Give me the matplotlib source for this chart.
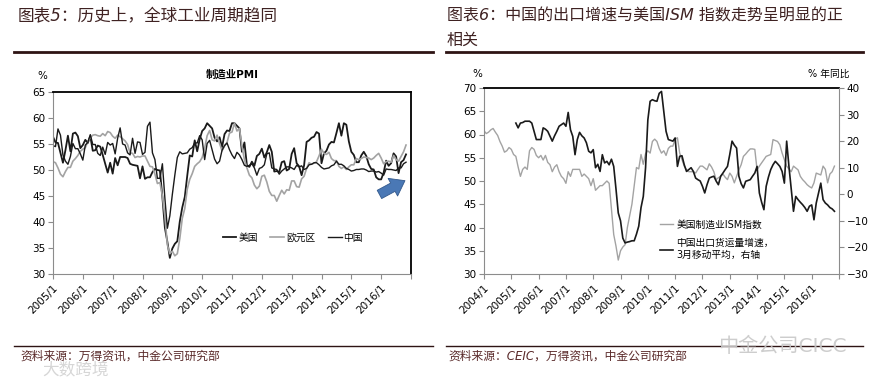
import numpy as np
import matplotlib.pyplot as plt
from matplotlib.patches import FancyArrowPatch

plt.rcParams['font.family'] = ['DejaVu Sans', 'Noto Sans CJK SC']

# left chart: manufacturing PMI, monthly from 2005/1
pmi_start = (2005, 1)
us_pmi = [56.4, 55.3, 55.2, 53.3, 51.4, 53.8, 56.6, 53.6, 57.0, 57.2, 56.5, 54.2,
          54.8, 55.8, 55.2, 56.5, 53.7, 53.8, 54.7, 54.5, 52.9, 51.2, 49.5, 51.4,
          49.3, 52.3, 50.9, 52.5, 52.5, 52.5, 52.3, 51.2, 51.0, 50.9, 50.8, 48.4,
          50.7, 48.3, 48.6, 48.6, 49.6, 50.2, 50.0, 49.9, 44.8, 38.9, 36.2, 33.1,
          34.9, 35.8, 36.3, 40.1, 42.8, 44.8, 48.9, 52.8, 52.6, 55.7, 53.6, 55.9,
          57.5, 58.0, 59.0, 58.5, 58.0, 56.2, 55.5, 56.3, 54.4, 56.9, 57.6, 57.5,
          59.0, 59.0, 58.5, 58.0, 53.5, 55.3, 50.9, 50.6, 51.6, 50.8, 52.7, 53.1,
          54.1, 52.4, 53.4, 54.8, 53.5, 49.7, 49.8, 49.6, 51.5, 51.7, 49.9, 50.2,
          53.1, 54.2, 51.3, 50.7, 49.0, 50.9, 55.4, 55.7, 56.2, 56.4, 57.3, 57.0,
          51.3, 53.2, 53.7, 54.9, 55.4, 55.3, 57.1, 59.0, 56.6, 59.0, 58.7, 55.5,
          53.5, 52.9, 51.5, 51.5, 52.8, 53.5, 52.7, 51.1, 50.2, 50.1, 48.6, 48.2,
          48.2, 49.5, 51.8, 50.8, 51.3, 53.2, 52.6, 49.4, 51.5, 51.9, 53.0]
euro_pmi = [51.6, 51.4, 50.4, 49.2, 48.7, 49.7, 50.5, 50.5, 51.7, 52.2, 52.8, 53.6,
            54.0, 54.3, 55.4, 56.2, 56.7, 56.8, 56.6, 56.5, 57.0, 56.6, 57.4, 57.2,
            56.5, 56.1, 56.7, 56.4, 56.0, 55.6, 54.9, 53.3, 53.2, 52.4, 52.6, 52.5,
            52.7, 52.7, 51.7, 50.7, 50.6, 49.2, 47.4, 47.6, 45.0, 41.1, 35.6, 33.9,
            34.4, 33.5, 33.9, 36.8, 40.7, 42.6, 46.3, 48.2, 49.3, 50.7, 51.2, 51.6,
            52.4, 54.2, 56.6, 57.6, 55.8, 55.6, 56.7, 55.1, 53.7, 54.6, 55.3, 57.1,
            57.3, 59.0, 57.5, 58.0, 54.6, 52.0, 50.4, 49.0, 48.5, 47.1, 46.4, 46.9,
            48.8, 49.0, 47.7, 45.9, 45.1, 45.1, 44.0, 45.1, 46.1, 45.4, 46.2, 46.1,
            47.9, 47.9, 46.8, 46.7, 48.3, 48.8, 50.3, 51.4, 51.1, 51.3, 51.6, 52.7,
            54.0, 53.2, 53.0, 53.4, 52.2, 51.8, 51.8, 50.7, 50.3, 50.6, 50.1, 50.6,
            51.0, 51.0, 52.2, 52.0, 52.2, 52.5, 52.4, 52.3, 52.0, 52.3, 52.8, 53.2,
            52.3, 51.2, 51.6, 51.7, 51.5, 52.8, 52.0, 51.7, 52.6, 53.5, 54.8]
cn_pmi = [54.7, 54.5, 57.9, 56.7, 52.9, 51.7, 51.1, 52.6, 55.1, 54.1, 54.1, 53.1,
          51.9, 54.8, 55.3, 56.8, 54.9, 54.9, 53.2, 52.8, 54.4, 53.0, 55.3, 54.8,
          55.1, 53.1, 56.1, 58.1, 55.0, 54.8, 53.3, 52.9, 56.1, 53.2, 55.4, 55.3,
          53.0, 53.4, 58.4, 59.2, 53.3, 52.0, 48.4, 48.4, 51.2, 44.6, 38.8, 41.2,
          45.3, 49.0, 52.4, 53.5, 53.1, 53.2, 53.3, 54.0, 54.3, 55.2, 55.2, 56.6,
          55.8, 52.0, 55.1, 55.7, 53.9, 52.1, 51.2, 51.7, 53.8, 54.7, 55.2, 53.9,
          52.9, 52.2, 53.4, 52.9, 52.0, 50.9, 50.7, 50.9, 51.2, 50.4, 49.0, 50.3,
          50.5, 51.0, 53.1, 53.3, 50.4, 50.2, 50.1, 49.2, 49.8, 50.2, 50.6, 50.6,
          50.4, 50.1, 50.9, 50.6, 50.8, 50.1, 50.3, 51.0, 51.1, 51.4, 51.4, 51.0,
          50.5, 50.2, 50.3, 50.4, 50.8, 51.0, 51.7, 51.1, 51.1, 50.8, 50.3, 50.1,
          49.8, 49.9, 50.1, 50.1, 50.2, 50.2, 50.0, 49.7, 49.8, 49.8, 49.6, 49.7,
          49.4, 49.0, 50.2, 50.1, 50.1, 50.0, 49.9, 50.4, 50.4, 51.2, 51.5]
left_years = list(range(2005, 2018))

# right chart: US ISM (left axis) and China export volume growth 3mma (right axis)
ism_start = (2004, 1)
us_ism = [60.8, 60.2, 60.5, 61.0, 61.3, 60.5, 59.8, 58.5, 57.5, 56.2, 56.5, 57.2,
          56.8, 55.7, 55.3, 53.0, 51.0, 52.5, 53.0, 52.5, 56.5, 57.2, 56.8, 55.5,
          55.0, 55.5, 54.5, 55.5, 54.0, 53.5, 52.0, 53.0, 53.5, 52.0, 51.0, 50.5,
          49.5, 52.0, 51.0, 52.5, 52.5, 52.5, 52.5, 51.0, 51.5, 51.0, 50.5, 49.0,
          50.5, 48.0, 48.5, 49.0, 49.0, 49.5, 50.0, 49.5, 44.0, 38.5, 36.0, 33.0,
          35.0, 35.8, 36.3, 40.0, 42.5, 45.0, 49.0, 52.9, 52.6, 55.7, 53.6, 55.9,
          56.5, 56.0, 58.5, 59.0, 58.5, 57.0, 56.0, 56.5, 55.5, 57.0, 57.5, 57.5,
          59.0, 59.3, 56.0, 54.6, 53.2, 52.4, 52.0, 52.0, 52.0, 51.7, 52.5, 53.2,
          53.2, 52.8, 52.4, 53.7, 53.0, 52.0, 50.3, 50.7, 51.0, 51.5, 50.8, 50.3,
          51.7, 51.0, 49.6, 51.0, 52.4, 53.5, 55.3, 55.8, 56.4, 56.9, 56.9, 56.8,
          52.4, 53.2, 53.9, 54.6, 55.3, 55.5, 55.7, 58.9, 58.7, 58.5, 57.8, 56.0,
          54.6, 53.2, 52.6, 52.0, 53.2, 52.8, 52.4, 51.0, 50.3, 49.8, 49.2, 48.8,
          48.5, 49.6, 51.7, 51.5, 51.3, 53.2, 52.5, 49.6, 51.5, 52.0, 53.2]
export_start = (2005, 3)
cn_export = [26.8, 25.0, 26.8, 27.0, 27.5, 27.5, 27.5, 26.8, 23.7, 20.6,
             20.6, 20.6, 25.0, 24.5, 23.7, 21.8, 20.0, 22.0, 23.7, 25.6, 26.2, 26.8,
             25.6, 30.8, 24.3, 21.8, 14.9, 20.6, 23.3, 22.0, 21.2, 19.4, 16.2, 15.6,
             16.8, 10.0, 11.3, 8.6, 14.9, 11.8, 12.4, 11.1, 13.2, 10.5, 2.0, -7.0,
             -10.0, -16.5, -18.3, -18.0, -17.8, -17.5, -17.5, -15.0, -12.0, -5.0, -0.8, 10.0,
             28.0, 35.0, 35.6, 35.2, 35.0, 38.0, 38.7, 31.2, 23.7, 20.6, 20.3, 20.0,
             21.2, 10.5, 14.3, 14.5, 11.1, 8.6, 9.3, 10.0, 8.6, 6.1, 5.5, 5.0,
             3.0, 0.5, 3.6, 6.1, 6.5, 6.8, 5.0, 3.6, 6.8, 8.0, 9.3, 10.5,
             15.0, 20.0, 18.5, 17.4, 6.8, 4.0, 2.4, 4.9, 5.2, 5.5, 6.8, 8.0,
             10.5, 0.5, -3.0, -5.8, 3.0, 6.5, 9.3, 11.1, 12.4, 11.5, 10.5, 8.6,
             4.2, 20.0, 10.5, 2.0, -6.4, -0.8, -2.0, -3.0, -3.9, -5.0, -6.4, -4.5,
             -4.0, -9.6, -3.3, 0.5, 4.2, -2.0, -3.3, -4.0, -5.0, -5.5, -6.4]
right_years = list(range(2004, 2018))


def month_index(start, base_year):
    return (start[0] - base_year) * 12 + start[1] - 1


def year_labels(years):
    return [f'{y}/1' for y in years[:-1]] + ['']


BLACK = '#1a1a1a'
GRAY = '#a3a3a3'
AXGRAY = '#8c8c8c'
BROWN = '#3f2222'

fig = plt.figure(figsize=(8.72, 3.84), dpi=100)
fig.patch.set_facecolor('white')


def style_axes(ax, xticks, xlabels):
    ax.set_xticks(xticks)
    ax.set_xticklabels(xlabels, rotation=45, ha='right', va='top',
                       rotation_mode='anchor', fontsize=7.2)
    ax.tick_params(axis='both', direction='out', length=3.5, width=0.8,
                   color=AXGRAY, labelsize=7.5, pad=2)
    ax.tick_params(axis='x', pad=3)
    ax.spines['top'].set_color('black')
    ax.spines['top'].set_linewidth(1.3)
    ax.spines['left'].set_color(AXGRAY)
    ax.spines['bottom'].set_color(AXGRAY)


# ---------------- left panel ----------------
ax1 = fig.add_axes([53 / 872, 1 - 274 / 384, 358 / 872, 182 / 384])
b = pmi_start[0]
x_us = np.arange(len(us_pmi)) + month_index(pmi_start, b)
x_eu = np.arange(len(euro_pmi)) + month_index(pmi_start, b)
x_cn = np.arange(len(cn_pmi)) + month_index(pmi_start, b)
ax1.plot(x_us, us_pmi, color=BLACK, lw=1.3, label='美国')
ax1.plot(x_eu, euro_pmi, color=GRAY, lw=1.2, label='欧元区')
ax1.plot(x_cn, cn_pmi, color=BLACK, lw=1.0, label='中国')
ax1.set_xlim(0, (left_years[-1] - b) * 12)
ax1.set_ylim(30, 65)
ax1.set_yticks(np.arange(30, 66, 5))
style_axes(ax1, [(y - b) * 12 for y in left_years], year_labels(left_years))
ax1.spines['right'].set_color('black')
ax1.spines['right'].set_linewidth(1.3)
ax1.text(-0.015, 1.07, '%', transform=ax1.transAxes, fontsize=7.5, ha='right')
ax1.text(0.5, 1.08, '制造业PMI', transform=ax1.transAxes, fontsize=7.5,
         ha='center', fontweight='bold')
ax1.legend(loc='center', bbox_to_anchor=(0.67, 0.2), ncol=3, frameon=False,
           fontsize=7, handlelength=1.4, handletextpad=0.2, columnspacing=1.3)
arrow = FancyArrowPatch((0.905, 0.43), (0.99, 0.52), transform=ax1.transAxes,
                        arrowstyle='simple,head_width=1.6,head_length=1.1,tail_width=0.75',
                        mutation_scale=9, facecolor='#4a78b5', edgecolor='#33598c', lw=0.6)
ax1.add_patch(arrow)

# ---------------- right panel ----------------
ax2 = fig.add_axes([484 / 872, 1 - 274 / 384, 355 / 872, 186 / 384])
b = ism_start[0]
x_ism = np.arange(len(us_ism)) + month_index(ism_start, b)
x_exp = np.arange(len(cn_export)) + month_index(export_start, b)
l1, = ax2.plot(x_ism, us_ism, color=GRAY, lw=1.0, label='美国制造业ISM指数')
ax2.set_xlim(0, (right_years[-1] - b) * 12)
ax2.set_ylim(30, 70)
ax2.set_yticks(np.arange(30, 71, 5))
style_axes(ax2, [(y - b) * 12 for y in right_years], year_labels(right_years))
ax2.spines['right'].set_visible(False)
ax3 = ax2.twinx()
l2, = ax3.plot(x_exp, cn_export, color=BLACK, lw=1.2,
               label='中国出口货运量增速，\n3月移动平均，右轴')
ax3.set_ylim(-30, 40)
ax3.set_yticks(np.arange(-30, 41, 10))
ax3.tick_params(axis='y', direction='out', length=3.5, width=0.8,
                color=AXGRAY, labelsize=7.5, pad=2)
for s in ['top', 'left', 'bottom']:
    ax3.spines[s].set_visible(False)
ax3.spines['right'].set_color(AXGRAY)
ax2.text(-0.005, 1.06, '%', transform=ax2.transAxes, fontsize=7.5, ha='right')
ax3.text(1.03, 1.06, '% 年同比', transform=ax3.transAxes, fontsize=7, ha='right')
ax3.legend(handles=[l1, l2], loc='upper left', bbox_to_anchor=(0.47, 0.34),
           frameon=False, fontsize=7, handlelength=1.4, handletextpad=0.3,
           labelspacing=0.9)

# ---------------- titles, rules, sources ----------------
fig.text(18 / 872, 1 - 16 / 384, '图表5：历史上，全球工业周期趋同', fontsize=12,
         color=BROWN, va='center', style='italic')
fig.text(447 / 872, 1 - 16 / 384, '图表6：中国的出口增速与美国ISM 指数走势呈明显的正',
         fontsize=11.5, color=BROWN, va='center', style='italic')
fig.text(447 / 872, 1 - 40 / 384, '相关', fontsize=11.5, color=BROWN,
         va='center', style='italic')
for x0, x1 in [(14, 433), (446, 863)]:
    fig.add_artist(plt.Line2D([x0 / 872, x1 / 872], [1 - 52 / 384] * 2,
                              color='#2e1414', lw=2.0))
    fig.add_artist(plt.Line2D([x0 / 872, x1 / 872], [1 - 346 / 384] * 2,
                              color='#2e1414', lw=1.0))
fig.text(20 / 872, 1 - 356 / 384, '资料来源：万得资讯，中金公司研究部', fontsize=8.5,
         color='#5a2a2a', va='center', style='italic')
fig.text(448 / 872, 1 - 356 / 384, '资料来源：CEIC，万得资讯，中金公司研究部',
         fontsize=8.5, color='#5a2a2a', va='center', style='italic')
# watermarks
fig.text(718 / 872, 1 - 346 / 384, '中金公司CICC', fontsize=14.5, color='#c8c8c8',
         va='center', alpha=0.9)
fig.text(42 / 872, 1 - 370 / 384, '大数跨境', fontsize=12, color='#d6d6d6',
         va='center')

fig.savefig('out.png', dpi=100, facecolor='white')
